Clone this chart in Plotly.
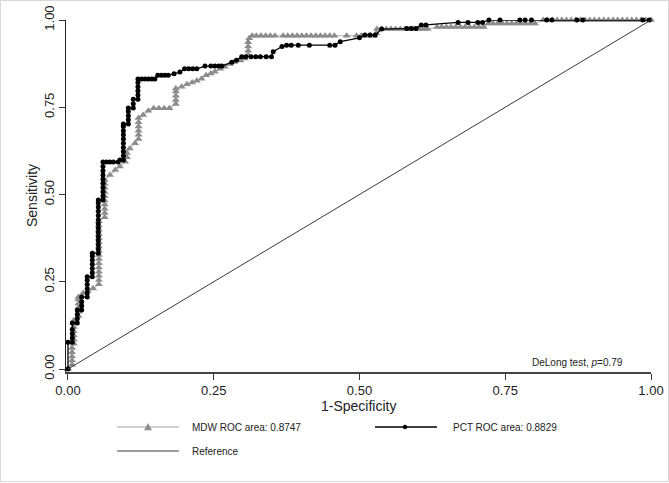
import plotly.graph_objects as go

# ---------------- data ----------------
mdw_x = [0, 0.007, 0.007, 0.007, 0.007, 0.007,
         0.010, 0.010, 0.010, 0.010, 0.010, 0.010, 0.010,
         0.018, 0.018, 0.018, 0.018, 0.018, 0.018,
         0.026, 0.034, 0.043,
         0.053, 0.053, 0.053, 0.053, 0.053, 0.053, 0.053, 0.053, 0.053, 0.053, 0.053, 0.053, 0.053, 0.053, 0.053, 0.053,
         0.063, 0.063, 0.063, 0.063, 0.063, 0.063, 0.063, 0.063, 0.063, 0.063,
         0.072, 0.081, 0.089, 0.098, 0.101, 0.101, 0.106, 0.115,
         0.121, 0.121, 0.121, 0.121, 0.121, 0.121,
         0.129, 0.138, 0.147, 0.156, 0.165, 0.174,
         0.185, 0.185, 0.185, 0.185, 0.185,
         0.195, 0.204, 0.213, 0.221, 0.229, 0.237, 0.245, 0.252, 0.261, 0.269, 0.278, 0.285,
         0.296, 0.303, 0.309, 0.309, 0.309, 0.309, 0.311, 0.316,
         0.323, 0.331, 0.339, 0.347, 0.355, 0.369, 0.377, 0.385, 0.393, 0.401, 0.409, 0.417, 0.425,
         0.433, 0.441, 0.449, 0.457, 0.478, 0.495, 0.503, 0.511, 0.519, 0.525,
         0.529, 0.530, 0.538, 0.546, 0.554, 0.562, 0.570, 0.578, 0.586, 0.594, 0.602, 0.610, 0.617,
         0.633, 0.641, 0.649, 0.657, 0.665, 0.673, 0.681, 0.689, 0.697, 0.705, 0.713,
         0.721, 0.729, 0.737, 0.745, 0.753, 0.761, 0.769, 0.777, 0.785, 0.793, 0.801,
         0.815, 0.823, 0.831, 0.839, 0.847, 0.855, 0.863, 0.871, 0.879, 0.887, 0.895, 0.903,
         0.911, 0.919, 0.927, 0.935, 0.943, 0.951, 0.959, 0.967, 0.975, 0.983, 0.991, 1.0]
mdw_y = [0, 0.012, 0.024, 0.036, 0.048, 0.060,
         0.072, 0.084, 0.096, 0.108, 0.120, 0.132, 0.140,
         0.152, 0.164, 0.176, 0.188, 0.200, 0.206,
         0.218, 0.224, 0.231,
         0.243, 0.255, 0.267, 0.279, 0.291, 0.303, 0.315, 0.327, 0.339, 0.351, 0.363, 0.375, 0.387, 0.399, 0.411, 0.423,
         0.435, 0.447, 0.459, 0.471, 0.483, 0.495, 0.507, 0.519, 0.531, 0.541,
         0.556, 0.570, 0.580, 0.594, 0.607, 0.619, 0.632, 0.647,
         0.659, 0.671, 0.683, 0.695, 0.707, 0.719,
         0.728, 0.740, 0.747, 0.747, 0.747, 0.747,
         0.759, 0.771, 0.783, 0.795, 0.804,
         0.809, 0.816, 0.821, 0.826, 0.832, 0.842, 0.847, 0.852, 0.860, 0.866, 0.874, 0.880,
         0.884, 0.890, 0.900, 0.912, 0.924, 0.936, 0.948, 0.955,
         0.955, 0.955, 0.955, 0.955, 0.955, 0.955, 0.955, 0.955, 0.955, 0.955, 0.955, 0.955, 0.955,
         0.955, 0.955, 0.955, 0.955, 0.955, 0.955, 0.955, 0.955, 0.955, 0.955,
         0.962, 0.974, 0.974, 0.974, 0.974, 0.974, 0.974, 0.974, 0.974, 0.974, 0.974, 0.974, 0.974,
         0.980, 0.980, 0.980, 0.980, 0.980, 0.980, 0.980, 0.980, 0.980, 0.980, 0.980,
         0.990, 0.990, 0.990, 0.990, 0.990, 0.990, 0.990, 0.990, 0.990, 0.990, 0.990,
         1.0, 1.0, 1.0, 1.0, 1.0, 1.0, 1.0, 1.0, 1.0, 1.0, 1.0, 1.0,
         1.0, 1.0, 1.0, 1.0, 1.0, 1.0, 1.0, 1.0, 1.0, 1.0, 1.0, 1.0]

pct_x = [0, 0, 0.0074, 0.0074, 0.0074, 0.0074, 0.0074,
         0.016, 0.016, 0.016, 0.016,
         0.0235, 0.0235, 0.0235, 0.0235,
         0.033, 0.033, 0.033, 0.033, 0.033, 0.033,
         0.0417, 0.0417, 0.0417, 0.0417, 0.0417, 0.0417, 0.0417,
         0.052, 0.052, 0.052, 0.052, 0.052, 0.052, 0.052, 0.052, 0.052, 0.052, 0.052, 0.052, 0.052, 0.052,
         0.060, 0.060, 0.060, 0.060, 0.060, 0.060, 0.060, 0.060, 0.060, 0.060,
         0.066, 0.072, 0.078, 0.086, 0.089,
         0.095, 0.095, 0.095, 0.095, 0.095, 0.095, 0.095, 0.095, 0.095, 0.095,
         0.1035, 0.1035, 0.1035, 0.1035, 0.1035,
         0.112, 0.112, 0.112,
         0.120, 0.120, 0.120, 0.120, 0.120, 0.120,
         0.126, 0.132, 0.138, 0.144, 0.149,
         0.154, 0.160, 0.166, 0.172, 0.182, 0.192,
         0.200, 0.207, 0.214, 0.221,
         0.235, 0.245, 0.252, 0.259, 0.264, 0.281, 0.289,
         0.298, 0.305, 0.314, 0.322, 0.330, 0.340, 0.349,
         0.352, 0.367, 0.375, 0.383, 0.395, 0.414, 0.449, 0.458,
         0.467, 0.500, 0.509, 0.518, 0.527,
         0.538, 0.581, 0.589, 0.597, 0.606, 0.614,
         0.669, 0.686, 0.703, 0.711,
         0.722, 0.741, 0.775, 0.784, 0.795, 0.821, 0.830, 0.873, 0.883, 0.986, 0.997]
pct_y = [0, 0.077, 0.077, 0.089, 0.101, 0.113, 0.132,
         0.132, 0.144, 0.156, 0.169,
         0.169, 0.181, 0.193, 0.206,
         0.206, 0.218, 0.230, 0.242, 0.254, 0.264,
         0.264, 0.276, 0.288, 0.300, 0.312, 0.324, 0.332,
         0.332, 0.344, 0.356, 0.368, 0.380, 0.392, 0.404, 0.416, 0.428, 0.440, 0.452, 0.464, 0.476, 0.484,
         0.484, 0.496, 0.508, 0.520, 0.532, 0.544, 0.556, 0.568, 0.580, 0.593,
         0.593, 0.593, 0.593, 0.593, 0.599,
         0.599, 0.611, 0.623, 0.635, 0.647, 0.659, 0.671, 0.683, 0.695, 0.702,
         0.702, 0.714, 0.726, 0.738, 0.748,
         0.748, 0.760, 0.773,
         0.773, 0.785, 0.797, 0.809, 0.821, 0.831,
         0.831, 0.831, 0.831, 0.831, 0.831,
         0.842, 0.842, 0.842, 0.842, 0.846, 0.851,
         0.860, 0.860, 0.860, 0.860,
         0.868, 0.868, 0.868, 0.868, 0.868, 0.879, 0.885,
         0.895, 0.895, 0.895, 0.895, 0.895, 0.895, 0.895,
         0.909, 0.924, 0.928, 0.928, 0.928, 0.928, 0.928, 0.928,
         0.938, 0.949, 0.957, 0.957, 0.957,
         0.974, 0.976, 0.976, 0.976, 0.986, 0.986,
         0.993, 0.993, 0.993, 0.993,
         1.0, 1.0, 1.0, 1.0, 1.0, 1.0, 1.0, 1.0, 1.0, 1.0, 1.0]

ref_x = [0, 1]
ref_y = [0, 1]

tick_vals = [0, 0.25, 0.5, 0.75, 1.0]
tick_text = ["0.00", "0.25", "0.50", "0.75", "1.00"]

mdw_label = "MDW ROC area: 0.8747"
pct_label = "PCT ROC area: 0.8829"
ref_label = "Reference"
note_text = "DeLong test, <i>p</i>=0.79"

# ---------------- figure ----------------
W, H = 669, 483
L, R, T, B = 66, 18, 20, 111
PW, PH = W - L - R, H - T - B

def px(x):
    return (x - L) / PW

def py(y):
    return (H - B - y) / PH

FONT = "Liberation Sans, Arial, sans-serif"
MDW_LINE = "#c0c0c0"
MDW_MARK = "#8c8c8c"

fig = go.Figure()
fig.add_trace(go.Scatter(x=mdw_x, y=mdw_y, mode="lines+markers", cliponaxis=False,
                         line=dict(color=MDW_LINE, width=1.2),
                         marker=dict(symbol="triangle-up", size=7, color=MDW_MARK),
                         showlegend=False, hoverinfo="skip"))
fig.add_trace(go.Scatter(x=pct_x, y=pct_y, mode="lines+markers", cliponaxis=False,
                         line=dict(color="black", width=1.3),
                         marker=dict(symbol="circle", size=5, color="black"),
                         showlegend=False, hoverinfo="skip"))
fig.add_trace(go.Scatter(x=ref_x, y=ref_y, mode="lines", cliponaxis=False,
                         line=dict(color="#3a3a3a", width=1),
                         showlegend=False, hoverinfo="skip"))

fig.update_layout(
    width=W, height=H,
    margin=dict(l=L, r=R, t=T, b=B, pad=0, autoexpand=False),
    paper_bgcolor="white", plot_bgcolor="white",
    font=dict(family=FONT, color="#222"),
    xaxis=dict(range=[-0.0034, 1.0], tickvals=tick_vals, ticktext=tick_text, automargin=False,
               ticks="outside", ticklen=6, tickwidth=1.3, tickcolor="#333",
               showline=True, linecolor="#444", linewidth=1.6,
               showgrid=False, zeroline=False, tickfont=dict(size=13, color="#222")),
    yaxis=dict(range=[-0.0086, 1.0], tickvals=tick_vals, ticktext=tick_text, automargin=False,
               ticks="outside", ticklen=6, tickwidth=1.3, tickcolor="#333",
               showline=True, linecolor="#222", linewidth=1.3, tickangle=-90,
               showgrid=False, zeroline=False, tickfont=dict(size=13, color="#222")),
)

annotations = [
    dict(text="1-Specificity", x=0.5, y=py(405.5), xref="paper", yref="paper",
         showarrow=False, font=dict(size=14, color="#222"), xanchor="center", yanchor="middle"),
    dict(text="Sensitivity", x=px(32), y=0.5, xref="paper", yref="paper", textangle=-90,
         showarrow=False, font=dict(size=14, color="#222"), xanchor="center", yanchor="middle"),
    dict(text=note_text, x=px(625), y=py(362), xref="paper", yref="paper",
         showarrow=False, font=dict(size=10, color="#222"), xanchor="right", yanchor="middle"),
    dict(text=mdw_label, x=px(190), y=py(427), xref="paper", yref="paper",
         showarrow=False, font=dict(size=10, color="#222"), xanchor="left", yanchor="middle"),
    dict(text=pct_label, x=px(451), y=py(427), xref="paper", yref="paper",
         showarrow=False, font=dict(size=10, color="#222"), xanchor="left", yanchor="middle"),
    dict(text=ref_label, x=px(190), y=py(451), xref="paper", yref="paper",
         showarrow=False, font=dict(size=10, color="#222"), xanchor="left", yanchor="middle"),
]
fig.update_layout(annotations=annotations)

shapes = [
    # figure frame
    dict(type="rect", xref="paper", yref="paper", x0=px(0.5), x1=px(668.5), y0=py(481.5), y1=py(0.5),
         line=dict(color="#d8d8d8", width=1), layer="below"),
    # legend keys
    dict(type="line", xref="paper", yref="paper", x0=px(117), x1=px(179), y0=py(427), y1=py(427),
         line=dict(color=MDW_LINE, width=1.3)),
    dict(type="path", xref="paper", yref="paper",
         path=f"M {px(144.5)},{py(430)} L {px(151.5)},{py(430)} L {px(148)},{py(423.5)} Z",
         fillcolor=MDW_MARK, line=dict(color=MDW_MARK, width=0.5)),
    dict(type="line", xref="paper", yref="paper", x0=px(375), x1=px(437), y0=py(427), y1=py(427),
         line=dict(color="black", width=1.3)),
    dict(type="circle", xref="paper", yref="paper", x0=px(403), x1=px(407), y0=py(429), y1=py(425),
         fillcolor="black", line=dict(color="black", width=0.5)),
    dict(type="line", xref="paper", yref="paper", x0=px(117), x1=px(179), y0=py(451), y1=py(451),
         line=dict(color="#3a3a3a", width=1)),
]
fig.update_layout(shapes=shapes)

fig.write_html("out.html",
               config={"displayModeBar": False},
               post_script="document.body.style.margin='0';document.body.style.padding='0';")
